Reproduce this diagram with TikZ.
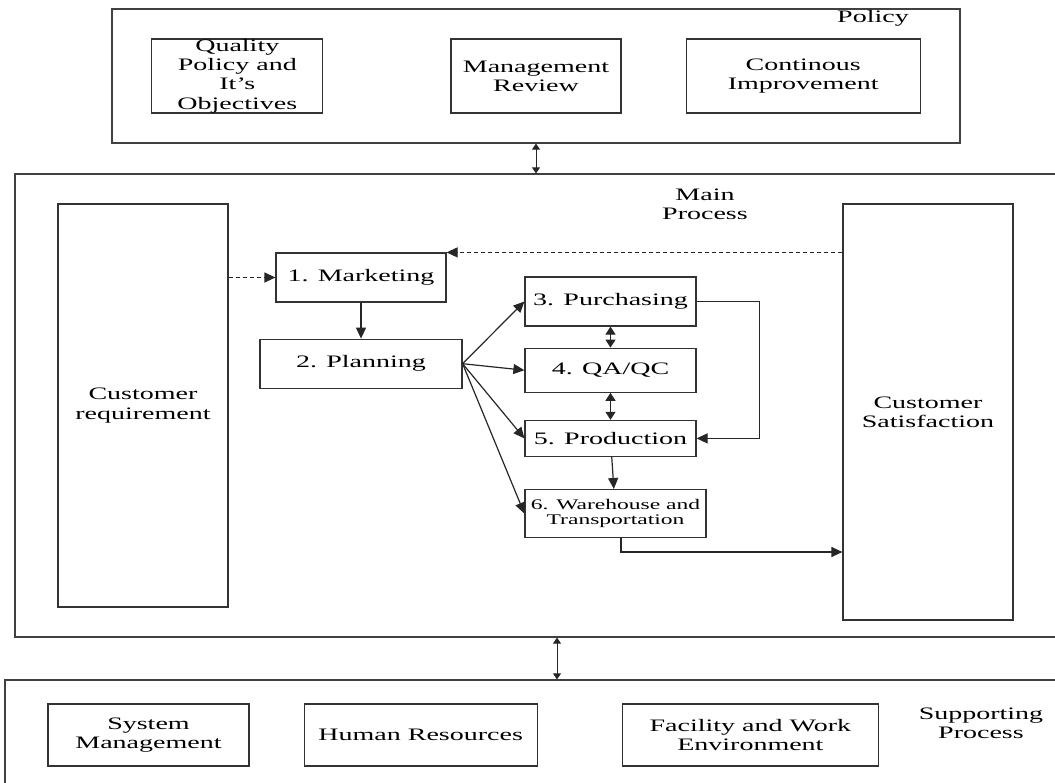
\documentclass[tikz,border=0pt]{standalone}
\usepackage{fontspec}
\setmainfont[FakeStretch=1.6]{Liberation Serif}
\usetikzlibrary{positioning,arrows.meta}

\tikzset{
  frame/.style={draw=black!75, line width=0.6pt, inner sep=0pt},
  box/.style={draw=black!80, line width=0.6pt, inner sep=0pt, align=center,
    font=\fontsize{8.75}{9.6}\selectfont},
  tag/.style={inner sep=0pt, align=center, font=\fontsize{8.75}{9.6}\selectfont},
  arr/.style={draw=black!85, line width=0.6pt, -{Triangle[length=5.5pt,width=5pt]}},
  fb/.style={arr, dash pattern=on 2pt off 1.5pt},
  dlink/.style={draw=black!85, line width=0.6pt,
    {Triangle[length=4pt,width=5pt]}-{Triangle[length=4pt,width=5pt]}},
  link/.style={draw=black!85, line width=0.5pt,
    {Triangle[length=3pt,width=4pt]}-{Triangle[length=3pt,width=4pt]}}
}

\begin{document}
\begin{tikzpicture}[x=0.5pt, y=-0.5pt]
  \useasboundingbox (0,0) rectangle (1055,782);
  \clip (0,0) rectangle (1055,782);

  \node[frame, minimum width=424pt, minimum height=67pt] (pol) at (536,76) {};
  \node[tag] (polt) at (873,18) {Policy};
  \node[box, minimum width=85pt, minimum height=37pt] (mr) at (536,76) {Management\\Review};
  \node[box, minimum width=85.5pt, minimum height=37pt, left=63.5pt of mr] (qp)
    {Quality\\Policy and\\It's\\Objectives};
  \node[box, minimum width=117pt, minimum height=37pt, right=32pt of mr] (ci) {Continous\\Improvement};

  \node[frame, minimum width=527.5pt, minimum height=231.5pt] (mp) at (542.5,405.5) {};
  \node[tag] (mpt) at (705,204) {Main\\Process};
  \node[box, minimum width=85pt, minimum height=201.5pt] (cr) at (143,405.5) {Customer\\requirement};
  \node[box, minimum width=85pt, minimum height=208pt] (cs) at (928,412) {Customer\\Satisfaction};
  \node[box, minimum width=85pt, minimum height=24.5pt] (mk) at (361,277.5) {1. Marketing};
  \node[box, minimum width=101pt, minimum height=24.5pt, below=18pt of mk] (pl) {2. Planning};
  \node[box, minimum width=85.5pt, minimum height=24.5pt] (pu) at (610.5,301.5) {3. Purchasing};
  \node[box, minimum width=85.5pt, minimum height=22pt, below=10.5pt of pu] (qa) {4. QA/QC};
  \node[box, minimum width=85.5pt, minimum height=18pt, below=13.5pt of qa] (pr) {5. Production};
  \node[box, minimum width=90.5pt, minimum height=24pt, below=16pt of pr, xshift=2.5pt,
    font=\fontsize{7.35}{7.8}\selectfont] (wh) {6. Warehouse and\\Transportation};

  \node[frame, minimum width=532.5pt, minimum height=60pt] (sp) at (537.5,740) {};
  \node[box, minimum width=100.5pt, minimum height=31pt] (sm) at (148.5,735) {System\\Management};
  \node[box, minimum width=116.5pt, minimum height=31pt, right=27pt of sm] (hr) {Human Resources};
  \node[box, minimum width=128pt, minimum height=31pt, right=42pt of hr] (fw) {Facility and Work\\Environment};
  \node[tag] (spt) at (981,723) {Supporting\\Process};

  \coordinate (jn) at (557,0);
  \coordinate (whc) at (621,552);

  \draw[link] (pol.south) -- (pol.south |- mp.north);
  \draw[link] (mp.south -| jn) -- (sp.north -| jn);
  \draw[fb] (mk.west -| cr.east) -- (mk.west);
  \draw[fb] (cs.west |- mk.north east) -- (mk.north east);
  \draw[arr] (mk) -- (pl);
  \foreach \t in {pu,qa,pr,wh}
    \draw[arr] (pl.east) -- (\t.west);
  \draw[dlink] (pu) -- (qa);
  \draw[dlink] (qa) -- (pr);
  \draw[arr] (pu.east) -- ++(63,0) |- (pr.east);
  \draw[arr] (pr) -- (wh);
  \draw[arr] (wh.south -| whc) |- (whc -| cs.west);
\end{tikzpicture}
\end{document}
